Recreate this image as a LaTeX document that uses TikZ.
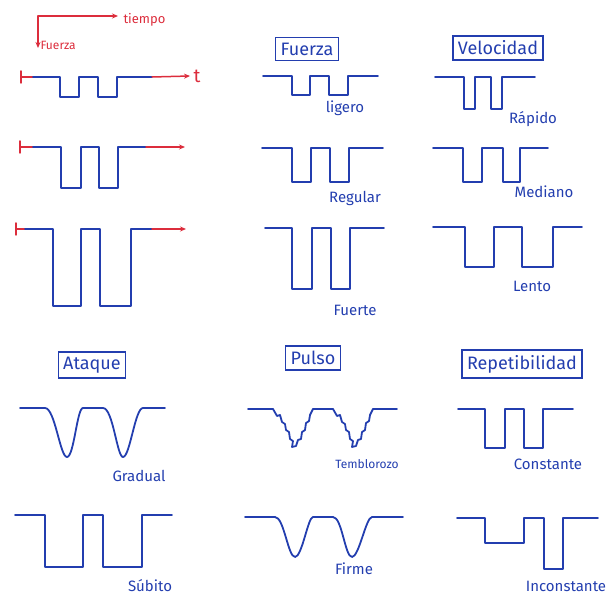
\documentclass[tikz,border=0pt]{standalone}
\usepackage{fontspec}
\setmainfont{Fira Sans}
\usetikzlibrary{arrows.meta}
\definecolor{tinta}{RGB}{35,62,175}
\definecolor{rojo}{RGB}{220,45,60}

\begin{document}
\begin{tikzpicture}[
  x=1pt, y=-1pt,
  wave/.style={draw=tinta, line width=1.8pt, line join=round, line cap=round},
  redline/.style={draw=rojo, line width=1.5pt, line cap=round},
  axisline/.style={redline, -{Stealth[length=6pt,width=5pt]}},
  headbox/.style={draw=tinta, line width=1.3pt, text=tinta, font=\fontsize{18}{20}\selectfont, inner sep=5pt},
  note/.style={text=tinta, font=\fontsize{15}{17}\selectfont},
  rednote/.style={text=rojo, font=\fontsize{13}{15}\selectfont}
]
\useasboundingbox (0,0) rectangle (613,596);

% leyenda de ejes
\coordinate (origen) at (38,16);
\node[rednote, anchor=west] (tiempo) at (120,20) {tiempo};
\node[rednote, anchor=west, font=\fontsize{12}{14}\selectfont] (fuerzaeje) at (37,45) {Fuerza};
\draw[axisline] (origen) -- (118,16);
\draw[axisline] (origen) -- (38,48);

% columna izquierda
\node[text=rojo, font=\fontsize{19}{21}\selectfont] (t) at (197,76) {t};
\draw[redline] (21,71) -- (21,83);
\draw[redline] (21,77) -- (33,77);
\draw[wave] (33,77) -- (60,77) -- (60,97) -- (79,97) -- (79,77) -- (98,77) -- (98,97) -- (117,97) -- (117,77) -- (152,77);
\draw[axisline] (152,77) -- (t.west);

\draw[redline] (20,141) -- (20,153);
\draw[redline] (20,147) -- (33,147);
\draw[wave] (33,147) -- (61,147) -- (61,188) -- (81,188) -- (81,147) -- (99,147) -- (99,188) -- (118,188) -- (118,147) -- (146,147);
\draw[axisline] (146,147) -- (185,147);

\draw[redline] (16,223) -- (16,235);
\draw[redline] (16,229) -- (25,229);
\draw[wave] (25,229) -- (53,229) -- (53,306) -- (81,306) -- (81,229) -- (100,229) -- (100,306) -- (131,306) -- (131,229) -- (152,229);
\draw[axisline] (152,229) -- (186,229);

% fuerza
\node[headbox] (fuerza) at (307,49) {Fuerza};
\draw[wave] (263,76) -- (292,76) -- (292,95) -- (310,95) -- (310,76) -- (329,76) -- (329,95) -- (348,95) -- (348,76) -- (378,76);
\node[note] (ligero) at (345,108) {ligero};
\draw[wave] (262,148) -- (292,148) -- (292,182) -- (311,182) -- (311,148) -- (330,148) -- (330,182) -- (349,182) -- (349,148) -- (383,148);
\node[note] (regular) at (355,198) {Regular};
\draw[wave] (265,228) -- (292,228) -- (292,289) -- (312,289) -- (312,228) -- (331,228) -- (331,289) -- (350,289) -- (350,228) -- (384,228);
\node[note] (fuerte) at (355,310) {Fuerte};

% velocidad
\node[headbox] (velocidad) at (498,48) {Velocidad};
\draw[wave] (435,77) -- (464,77) -- (464,109) -- (475,109) -- (475,77) -- (491,77) -- (491,109) -- (502,109) -- (502,77) -- (535,77);
\node[note] (rapido) at (533,119) {Rápido};
\draw[wave] (433,148) -- (463,148) -- (463,182) -- (482,182) -- (482,148) -- (503,148) -- (503,182) -- (520,182) -- (520,148) -- (548,148);
\node[note] (mediano) at (544,192) {Mediano};
\draw[wave] (433,227) -- (465,227) -- (465,267) -- (494,267) -- (494,227) -- (522,227) -- (522,267) -- (553,267) -- (553,227) -- (582,227);
\node[note] (lento) at (532,286) {Lento};

% ataque
\node[headbox] (ataque) at (92,365) {Ataque};
\draw[wave] (20,408) -- (45,408) .. controls (55,408) and (60,457) .. (67,457) .. controls (74,457) and (77,408) .. (83,408)
  -- (103,408) .. controls (113,408) and (117,457) .. (123,457) .. controls (130,457) and (135,408) .. (143,408) -- (165,408);
\node[note] (gradual) at (139,476) {Gradual};
\draw[wave] (15,515) -- (45,515) -- (45,567) -- (83,567) -- (83,515) -- (103,515) -- (103,567) -- (142,567) -- (142,515) -- (172,515);
\node[note] (subito) at (150,586) {Súbito};

% pulso
\node[headbox] (pulso) at (313,358) {Pulso};
\draw[wave] (248,409) -- (273,409) (313,409) -- (333,409) (373,409) -- (397,409);
\foreach \dx in {0,60}
  \draw[wave, xshift=\dx] (273,409) -- (277,416) -- (280,415) -- (282,422) -- (285,424) -- (286,430) -- (289,432)
    -- (290,439) -- (293,441) -- (292,447) -- (296,446) -- (298,440) -- (301,439) -- (302,432) -- (305,430)
    -- (306,423) -- (309,421) -- (310,415) -- (313,409);
\node[note, font=\fontsize{12}{14}\selectfont] (temblorozo) at (367,464) {Temblorozo};
\draw[wave] (245,517) -- (275,517) .. controls (284,517) and (288,557) .. (295,557) .. controls (302,557) and (308,517) .. (313,517)
  -- (333,517) .. controls (342,517) and (345,557) .. (352,557) .. controls (359,557) and (366,517) .. (372,517) -- (403,517);
\node[note] (firme) at (354,569) {Firme};

% repetibilidad
\node[headbox] (repetibilidad) at (522,364) {Repetibilidad};
\draw[wave] (458,409) -- (485,409) -- (485,448) -- (505,448) -- (505,409) -- (524,409) -- (524,448) -- (543,448) -- (543,409) -- (573,409);
\node[note] (constante) at (548,464) {Constante};
\draw[wave] (457,518) -- (485,518) -- (485,543) -- (524,543) -- (524,518) -- (544,518) -- (544,569) -- (563,569) -- (563,518) -- (598,518);
\node[note] (inconstante) at (566,586) {Inconstante};

\end{tikzpicture}
\end{document}
